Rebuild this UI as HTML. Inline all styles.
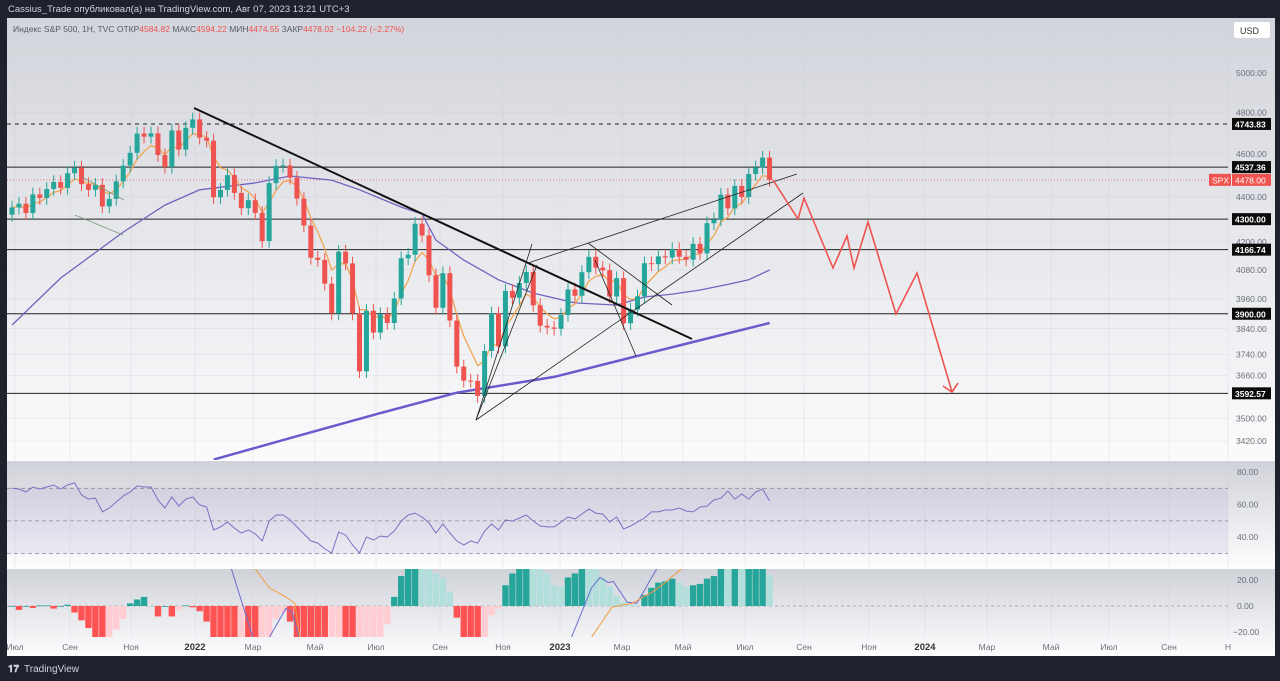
<!DOCTYPE html>
<html><head><meta charset="utf-8">
<style>
html,body{margin:0;padding:0;background:#1e222d;}
svg{display:block;font-family:"Liberation Sans","Noto Sans CJK SC",sans-serif;}
</style></head>
<body>
<svg id="chart" width="1280" height="681" viewBox="0 0 1280 681" xmlns="http://www.w3.org/2000/svg">
<defs>
<linearGradient id="gP" x1="0" y1="0" x2="0" y2="1"><stop offset="0" stop-color="#d3d5dc"/><stop offset="1" stop-color="#fbfbfc"/></linearGradient>
<linearGradient id="gR" x1="0" y1="0" x2="0" y2="1"><stop offset="0" stop-color="#d0d2d9"/><stop offset="1" stop-color="#fdfdfe"/></linearGradient>
<clipPath id="cP"><rect x="7" y="18" width="1221" height="442"/></clipPath>
<clipPath id="cR"><rect x="7" y="461" width="1221" height="107"/></clipPath>
<clipPath id="cM"><rect x="7" y="569" width="1221" height="68"/></clipPath>
</defs>
<rect x="0" y="0" width="1280" height="681" fill="#1e222d"/>
<rect x="7" y="18" width="1268" height="442" fill="url(#gP)"/>
<rect x="7" y="460" width="1268" height="1" fill="#ffffff"/>
<rect x="7" y="461" width="1268" height="107" fill="url(#gR)"/>
<rect x="7" y="568" width="1268" height="1" fill="#ffffff"/>
<rect x="7" y="569" width="1268" height="87" fill="url(#gR)"/>
<g id="grid"></g>
<g id="hlines"></g>
<g id="price" clip-path="url(#cP)"></g>
<g id="rsi" clip-path="url(#cR)"></g>
<g id="macd" clip-path="url(#cM)"></g>
<g id="axes"></g>
<text x="8" y="12" font-size="9.5" fill="#d1d4dc">Cassius_Trade опубликовал(а) на TradingView.com, Авг 07, 2023 13:21 UTC+3</text>
<text x="13" y="32" font-size="8.5" fill="#555a66">Индекс S&amp;P 500, 1H, TVC  ОТКР<tspan fill="#ef5350">4584.82</tspan>  МАКС<tspan fill="#ef5350">4594.22</tspan>  МИН<tspan fill="#ef5350">4474.55</tspan>  ЗАКР<tspan fill="#ef5350">4478.02  −104.22 (−2.27%)</tspan></text>
<g><rect x="1234" y="22" width="36" height="16" rx="2" fill="#ffffff"/><text x="1240" y="34" font-size="9" fill="#333">USD</text></g>
<g><text x="8" y="672" font-size="10" font-weight="bold" fill="#d1d4dc">𝟏𝟕</text><text x="24" y="672" font-size="10" fill="#d1d4dc">TradingView</text></g>
</svg>
<script>
const closes=[4352,4369,4327,4411,4395,4436,4468,4441,4509,4535,
4458,4432,4455,4357,4391,4471,4544,4605,4697,4682,
4698,4594,4538,4712,4620,4725,4766,4677,4663,4398,
4432,4500,4418,4349,4385,4328,4204,4463,4543,4545,
4488,4392,4272,4132,4123,4023,3901,4158,4108,3901,
3675,3912,3825,3899,3863,3962,4130,4145,4280,4228,
4058,3924,4067,3873,3693,3640,3639,3583,3753,3901,
3771,3993,3965,4026,4072,3934,3852,3845,3840,3895,
3999,3973,4071,4136,4090,4079,3970,4046,3862,3917,
3971,4109,4105,4138,4133,4169,4136,4124,4192,4151,
4282,4299,4410,4348,4450,4399,4505,4536,4582,4478];
const firstOpen=4320;
const sma50Idx=[0,7,16,22,27,35,40,46,50,56,59,61,65,70,75,81,87,91,95,99,103,106,109];
const sma50Val=[3855,4046,4243,4363,4432,4464,4496,4477,4432,4354,4323,4208,4122,4039,3984,3944,3935,3968,3980,3997,4020,4039,4080];
const sma200Idx=[29,41,53,64,78,90,98,109];
const sma200Val=[3355,3437,3520,3595,3654,3734,3788,3863];
const rsiVals=[70,69.6,67.7,70.8,69.6,70.8,72,69.6,72,73.3,65.9,63.4,64,55.5,57.9,61.6,65.3,67.7,71.4,70.8,70.8,62.8,57.9,64.7,59.1,63.4,64.7,59.8,58.5,44.4,46.3,49.3,45.6,42.6,44.4,42,37.7,49.9,53.6,53.6,50.6,46.3,42,37.7,36.4,32.8,30.3,43.2,41.3,35.2,30.3,40.1,38.3,40.7,40.1,43.8,49.9,53.6,54.8,52.4,48.7,42.6,48.1,42.6,37.7,35.2,37.7,36.4,43.8,48.1,44.4,50.6,49.9,51.8,53.6,49.9,46.9,46.3,46.3,49.3,52.4,51.2,54.2,57.3,54.8,54.2,49.3,52.4,45,46.9,49.3,51.8,55.5,55.5,56.7,56.7,57.9,56.1,55.5,58.5,59.1,62.8,64,68.3,63.4,66.5,63.4,67.7,69.6,62.2];
const histVals=[0,-3,0,-1.5,0.5,0.5,-2,0,1,-5,-11,-17,-40,-50,-45,-18,-10,2,5,7,0,-8,0,-8,-3,0.5,-1,-4,-12,-45,-50,-55,-60,-58,-62,-66,-60,-45,-10,-5,-12,-30,-45,-55,-60,-65,-60,-55,-60,-65,-60,-50,-40,-30,-14,7,23,35,40,38,30,25,22,11,-9,-40,-50,-52,-48,-7,-2,16,25,30,40,38,35,25,16,15,22,25,40,38,30,22,15,8,3,1,0.5,8.5,14,18,19,21,18,15,16,17,21,23,40,38,45,42,50,55,60,24];
const macdIdx=[0,20,29,31.6,35,36.4,39.4,40.3,41.4,45,60,75,80.5,83.4,84.6,85.8,86.5,87.5,88.5,89.9,92.8,100,109];
const macdVal=[80,80,60,28,-30,-30,-2,-5,-25,-80,-60,-40,-24,14,22,18,19,11,3,2,29,60,70];
const sigIdx=[0,30,35.1,37,39.4,40.7,41.4,50,70,83.4,86.3,89.2,92.2,94,96.4,109];
const sigVal=[80,60,28,14,7,2,-24,-80,-60,-24,-1,2,11,18,29,60];
const priceTicks=[5000,4800,4600,4400,4200,4080,3960,3840,3740,3660,3500,3420];
const levels=[4743.83,4537.36,4300,4166.74,3900,3592.57];
const monthLabels=["Июл","Сен","Ноя","2022","Мар","Май","Июл","Сен","Ноя","2023","Мар","Май","Июл","Сен","Ноя","2024","Мар","Май","Июл","Сен","Н"];
const monthPos=[15,70,131,195,253,315,376,440,503,560,622,683,745,804,869,925,987,1051,1109,1169,1228];
const rsiTicks=[80,60,40];
const macdTicks=[20,0,-20];

const NS="http://www.w3.org/2000/svg";
function mk(tag,attrs,parent){const e=document.createElementNS(NS,tag);for(const k in attrs)e.setAttribute(k,attrs[k]);parent.appendChild(e);return e;}
const xI=i=>12+6.95*i;
const yP=p=>73+969*Math.log(5000/p);
const yR=v=>472+(80-v)*1.63;
const yM=v=>606-v*1.3;
const G=id=>document.getElementById(id);

const grid=G('grid');
monthPos.forEach(x=>{const l=mk('line',{x1:x,y1:18,x2:x,y2:637,stroke:'#c9ccd4','stroke-width':0.5,opacity:0.6},grid);

});
priceTicks.forEach(p=>{const l=mk('line',{x1:7,y1:yP(p),x2:1228,y2:yP(p),stroke:'#c9ccd4','stroke-width':0.5,opacity:0.6},grid);

});

const hl=G('hlines');
levels.forEach((p,k)=>{const l=mk('line',{x1:7,y1:yP(p),x2:1228,y2:yP(p),stroke:'#222','stroke-width':1,'stroke-dasharray':k===0?'4,4':''},hl);

});
const cur=closes[closes.length-1];
const cl=mk('line',{x1:7,y1:yP(cur),x2:1228,y2:yP(cur),stroke:'#ef5350','stroke-width':0.7,'stroke-dasharray':'1,2'},hl);



const pg=G('price');
function poly(idx,vals,ys,attrs,parent,name){
 const pts=idx.map((i,k)=>xI(i).toFixed(1)+','+ys(vals[k]).toFixed(1)).join(' ');
 const e=mk('polyline',Object.assign({points:pts,fill:'none'},attrs),parent);
 
 
 return e;}
poly(sma200Idx,sma200Val,yP,{stroke:'#6a5acd','stroke-width':2.5},pg,'sma-200-line');
poly(sma50Idx,sma50Val,yP,{stroke:'#7063c0','stroke-width':1.3},pg,'sma-50-line');
const ema=[];const a=2/(5+1);
closes.forEach((c,i)=>ema.push(i===0?c:a*c+(1-a)*ema[i-1]));
poly(closes.map((_,i)=>i),ema,yP,{stroke:'#f0a552','stroke-width':1.3},pg,'ema-line');
closes.forEach((c,i)=>{
 const o=i===0?firstOpen:closes[i-1];
 const up=c>=o;const col=up?'#26a69a':'#ef5350';
 const hi=Math.max(o,c)*1.007,lo=Math.min(o,c)*0.993;
 const g=mk('g',{},pg);
 
 
 const x=xI(i);
 mk('line',{x1:x,y1:yP(hi),x2:x,y2:yP(lo),stroke:col,'stroke-width':1},g);
 const t=yP(Math.max(o,c)),b=yP(Math.min(o,c));
 mk('rect',{x:x-2.5,y:t,width:5,height:Math.max(1,b-t),fill:col},g);
});
const dr=mk('g',{},pg);


[[194,108,692,339,2,'#111'],[476,420,532,244,0.8,'#222'],[476,420,537,265,0.8,'#222'],[476,420,803,193,0.8,'#222'],[528,263,797,174,0.8,'#222'],
 [588,243,672,305,0.8,'#222'],[595,260,636,356,0.8,'#222'],[75,215,123,235,0.8,'#7a9a7a'],[82,177,124,200,0.8,'#7a9a7a']].forEach(d=>{
 mk('line',{x1:d[0],y1:d[1],x2:d[2],y2:d[3],stroke:d[5],'stroke-width':d[4]},dr);});
const proj=mk('polyline',{points:'773,180 798,219 804,198 833,268 847,236 854,268 868,222 896,314 917,273 952,392',fill:'none',stroke:'#ef5350','stroke-width':1.6},pg);


const ah=mk('polyline',{points:'943,386 952,392 958,383',fill:'none',stroke:'#ef5350','stroke-width':1.6},pg);



const rg=G('rsi');
const band=mk('rect',{x:7,y:yR(70),width:1221,height:yR(30)-yR(70),fill:'#7e57c2',opacity:0.09},rg);


[70,50,30].forEach(v=>{const l=mk('line',{x1:7,y1:yR(v),x2:1228,y2:yR(v),stroke:'#8a8d96','stroke-width':0.8,'stroke-dasharray':'4,3'},rg);

});
poly(rsiVals.map((_,i)=>i),rsiVals,yR,{stroke:'#7e6fc4','stroke-width':1},rg,'rsi-line');

const mg=G('macd');
const z=mk('line',{x1:7,y1:yM(0),x2:1228,y2:yM(0),stroke:'#999','stroke-width':0.7,'stroke-dasharray':'3,3'},mg);


histVals.forEach((v,i)=>{
 const p=i===0?0:histVals[i-1];
 const col=v>=0?(v>=p?'#26a69a':'#b2dfdb'):(v<p?'#ff5252':'#ffcdd2');
 const y0=yM(0),y1=yM(v);
 const r=mk('rect',{x:xI(i)-3.2,y:Math.min(y0,y1),width:6.4,height:Math.max(0.8,Math.abs(y1-y0)),fill:col},mg);
 
 
});
poly(macdIdx,macdVal,yM,{stroke:'#6a6fd0','stroke-width':1},mg,'macd-line');
poly(sigIdx,sigVal,yM,{stroke:'#f39a3c','stroke-width':1},mg,'signal-line');

const ax=G('axes');
priceTicks.forEach(p=>{const t=mk('text',{x:1236,y:yP(p)+3,'font-size':8.5,fill:'#6b6f7a'},ax);t.textContent=p.toFixed(2);

});
levels.forEach(p=>{const g=mk('g',{},ax);


mk('rect',{x:1232,y:yP(p)-6,width:39,height:12,fill:'#0b0b0b'},g);
const t=mk('text',{x:1235,y:yP(p)+3.5,'font-size':8.5,fill:'#fff','font-weight':'bold'},g);t.textContent=p.toFixed(2);});
const sg=mk('g',{},ax);


mk('rect',{x:1209,y:yP(cur)-6,width:22,height:12,fill:'#ef5350'},sg);
const st=mk('text',{x:1212,y:yP(cur)+3.5,'font-size':8.5,fill:'#fff'},sg);st.textContent='SPX';
mk('rect',{x:1232,y:yP(cur)-6,width:39,height:12,fill:'#ef5350'},sg);
const st2=mk('text',{x:1235,y:yP(cur)+3.5,'font-size':8.5,fill:'#fff'},sg);st2.textContent=cur.toFixed(2);
rsiTicks.forEach(v=>{const t=mk('text',{x:1237,y:yR(v)+3,'font-size':8.5,fill:'#6b6f7a'},ax);t.textContent=v.toFixed(2);

});
macdTicks.forEach(v=>{const t=mk('text',{x:v<0?1233:1237,y:yM(v)+3,'font-size':8.5,fill:'#6b6f7a'},ax);t.textContent=(v<0?'−'+Math.abs(v).toFixed(2):v.toFixed(2));

});
monthLabels.forEach((m,k)=>{const bold=/^\d{4}$/.test(m);
const t=mk('text',{x:monthPos[k],y:650,'font-size':bold?9.5:8.5,'font-weight':bold?'bold':'normal',fill:bold?'#333':'#6b6f7a','text-anchor':'middle'},ax);t.textContent=m;

});
</script>
</body></html>
